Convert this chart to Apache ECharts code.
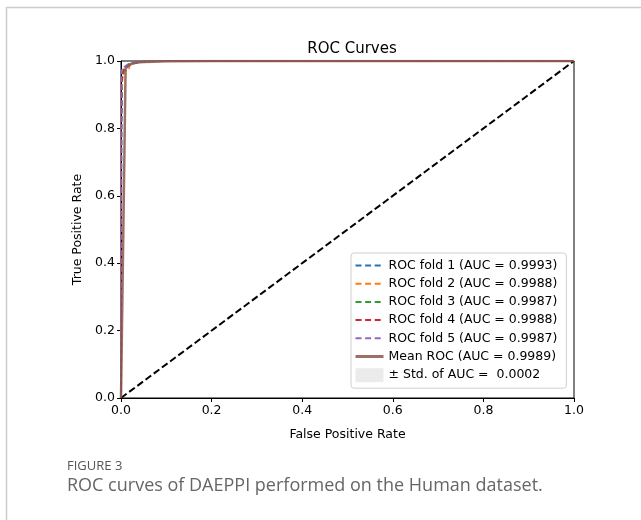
<!DOCTYPE html>
<html>
<head>
<meta charset="utf-8">
<script src="https://cdn.jsdelivr.net/npm/echarts@6/dist/echarts.min.js"></script>
<style>
  html, body { margin: 0; padding: 0; background: #fff; }
  #chart { width: 641px; height: 520px; }
</style>
</head>
<body>
<div id="chart"></div>
<script>
// axis ticks
const axisTicks = [0, 0.2, 0.4, 0.6, 0.8, 1.0];

// per-fold ROC points [fpr, tpr]
const fold1 = [[0, 0], [0, 0.35], [0.002, 0.35], [0.002, 0.8], [0.003, 0.8], [0.003, 0.95], [0.005, 0.97], [0.01, 0.985], [0.02, 0.993], [0.04, 0.998], [0.08, 1], [1, 1]];
const fold2 = [[0, 0], [0, 0.5], [0.001, 0.9], [0.004, 0.96], [0.012, 0.975], [0.018, 0.978], [0.02, 0.99], [0.035, 0.996], [0.07, 1], [1, 1]];
const fold3 = [[0, 0], [0, 0.7], [0.001, 0.94], [0.006, 0.975], [0.015, 0.99], [0.03, 0.995], [0.06, 0.999], [0.12, 1], [1, 1]];
const fold4 = [[0, 0], [0, 0.6], [0.001, 0.93], [0.005, 0.97], [0.012, 0.982], [0.025, 0.993], [0.05, 0.998], [0.1, 1], [1, 1]];
const fold5 = [[0, 0], [0, 0.92], [0.001, 0.97], [0.004, 0.98], [0.015, 0.99], [0.03, 0.996], [0.07, 0.999], [0.15, 1], [1, 1]];

// mean ROC on the interpolation grid
const meanFpr = [0, 0.0101, 0.0202, 0.0303, 0.0404, 0.0505, 0.0707, 0.101, 0.202, 1];
const meanTpr = [0, 0.978, 0.99, 0.994, 0.996, 0.997, 0.998, 0.999, 1, 1];
const stdUpper = [0, 0.986, 0.995, 0.998, 0.999, 1, 1, 1, 1, 1];
const stdLower = [0, 0.97, 0.985, 0.99, 0.993, 0.994, 0.996, 0.998, 1, 1];

const foldNames = [
  'ROC fold 1 (AUC = 0.9993)',
  'ROC fold 2 (AUC = 0.9988)',
  'ROC fold 3 (AUC = 0.9987)',
  'ROC fold 4 (AUC = 0.9988)',
  'ROC fold 5 (AUC = 0.9987)'
];
const meanName = 'Mean ROC (AUC = 0.9989)';
const stdName = '\u00b1 Std. of AUC =  0.0002';
const foldColors = ['#1f77b4', '#ff7f0e', '#2ca02c', '#d62728', '#9467bd'];
const folds = [fold1, fold2, fold3, fold4, fold5];

const font = 'DejaVu Sans';
const chart = echarts.init(document.getElementById('chart'));

const series = folds.map((d, i) => ({
  name: foldNames[i],
  type: 'line',
  data: d,
  symbol: 'none',
  color: foldColors[i],
  lineStyle: { width: 1.5, type: [5.5, 2.4], color: foldColors[i] },
  z: 2
}));

series.push({
  name: 'chance',
  type: 'line',
  data: [[0, 0], [1, 1]],
  symbol: 'none',
  lineStyle: { width: 2, type: [7, 3.2], color: '#000' },
  z: 3
});

series.push({
  name: meanName,
  type: 'line',
  data: meanFpr.map((x, i) => [x, meanTpr[i]]),
  symbol: 'none',
  color: '#8c564b',
  lineStyle: { width: 2.5, color: '#8c564b', opacity: 0.85 },
  z: 4
});

// std band as a polygon between upper and lower curves
series.push({
  name: stdName,
  type: 'custom',
  color: '#ebebeb',
  data: [0],
  renderItem: (params, api) => {
    const pts = [];
    meanFpr.forEach((x, i) => pts.push(api.coord([x, stdUpper[i]])));
    for (let i = meanFpr.length - 1; i >= 0; i--) pts.push(api.coord([meanFpr[i], stdLower[i]]));
    return {
      type: 'polygon',
      shape: { points: pts },
      style: { fill: 'rgba(128,128,128,0.2)' }
    };
  },
  z: 5
});

const legendData = foldNames.map((n, i) => ({
  name: n,
  itemStyle: { opacity: 0 },
  lineStyle: { width: 2, type: [6, 3.6], color: foldColors[i] }
}));
legendData.push({ name: meanName, itemStyle: { opacity: 0 }, lineStyle: { width: 3, color: '#8c564b' } });
legendData.push({ name: stdName, icon: 'rect', itemStyle: { color: '#ebebeb', opacity: 1 } });

chart.setOption({
  animation: false,
  backgroundColor: '#fff',
  title: {
    text: 'ROC Curves',
    left: 347,
    textAlign: 'center',
    top: 37,
    textStyle: { fontFamily: font, fontSize: 15, fontWeight: 'normal', color: '#000' }
  },
  grid: {
    left: 121, right: 67, top: 61, bottom: 122,
    show: true, borderColor: '#000', borderWidth: 1
  },
  xAxis: {
    type: 'value',
    min: 0, max: 1, interval: 0.2,
    name: 'False Positive Rate',
    nameLocation: 'middle',
    nameGap: 30,
    nameTextStyle: { fontFamily: font, fontSize: 12.5, color: '#000' },
    axisLine: { show: true, lineStyle: { color: '#000', width: 1 } },
    axisTick: { show: true, length: 4, lineStyle: { color: '#000' } },
    axisLabel: {
      fontFamily: font, fontSize: 12.5, color: '#000', margin: 6,
      formatter: v => axisTicks.includes(v) ? v.toFixed(1) : ''
    },
    splitLine: { show: false }
  },
  yAxis: {
    type: 'value',
    min: 0, max: 1, interval: 0.2,
    name: 'True Positive Rate',
    nameLocation: 'middle',
    nameGap: 34,
    nameTextStyle: { fontFamily: font, fontSize: 12.5, color: '#000' },
    axisLine: { show: true, lineStyle: { color: '#000', width: 1 } },
    axisTick: { show: true, length: 4, lineStyle: { color: '#000' } },
    axisLabel: {
      fontFamily: font, fontSize: 12.5, color: '#000', margin: 6,
      formatter: v => axisTicks.includes(v) ? v.toFixed(1) : ''
    },
    splitLine: { show: false }
  },
  legend: {
    orient: 'vertical',
    left: 351,
    top: 253,
    padding: [6, 9, 6, 3],
    itemGap: 5.2,
    itemWidth: 28,
    itemHeight: 14,
    backgroundColor: 'rgba(255,255,255,0.8)',
    borderColor: '#d0d0d0',
    borderWidth: 1,
    borderRadius: 3,
    textStyle: { fontFamily: font, fontSize: 12.5, color: '#000' },
    data: legendData
  },
  graphic: [
    { type: 'line', shape: { x1: 6, y1: 7.5, x2: 641, y2: 7.5 }, style: { stroke: '#cccccc', lineWidth: 1.5 } },
    { type: 'line', shape: { x1: 6.5, y1: 7, x2: 6.5, y2: 520 }, style: { stroke: '#cccccc', lineWidth: 1.5 } },
    { type: 'text', left: 67, top: 460, style: { text: 'FIGURE 3', fill: '#555', font: '13px "Open Sans"' } },
    { type: 'text', left: 67, top: 477, style: { text: 'ROC curves of DAEPPI performed on the Human dataset.', fill: '#666', font: '18px "Open Sans"' } }
  ],
  series: series
});
</script>
</body>
</html>
